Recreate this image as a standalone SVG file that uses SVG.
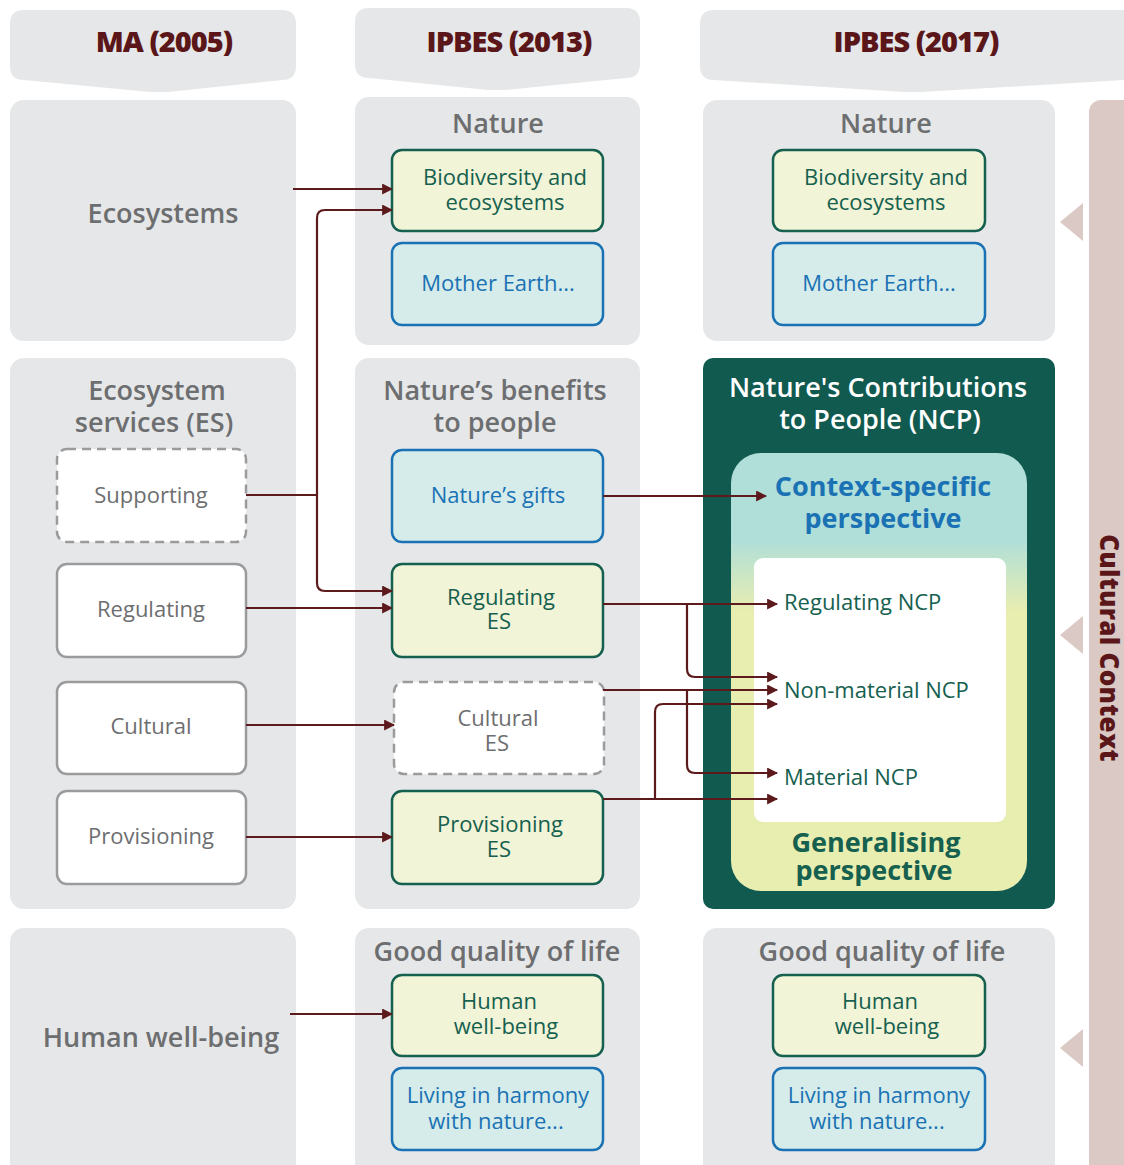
<svg xmlns="http://www.w3.org/2000/svg" width="1124" height="1165" viewBox="0 0 1124 1165">
<defs>
<style>
text{font-family:"Open Sans","Liberation Sans",sans-serif;text-anchor:middle}
.panel{fill:#e6e7e8}
.hdr{font-weight:800;font-size:29px;fill:#5a1618;letter-spacing:-1px}
.ptitle{font-size:27px;fill:#6d6e70;font-weight:600}
.gbox{fill:#f1f4d6;stroke:#15604f;stroke-width:2.5}
.bbox{fill:#d5ecea;stroke:#1a72b4;stroke-width:2.5}
.gray{fill:#ffffff;stroke:#9a9b9d;stroke-width:2.5}
.dash{fill:#ffffff;stroke:#9a9b9d;stroke-width:2.5;stroke-dasharray:9 6}
.gt{font-size:22px;fill:#15604f}
.bt{font-size:22px;fill:#1a72b4}
.yt{font-size:22px;fill:#6d6e70}
.nt{font-size:22px;fill:#15604f;text-anchor:start}
.conn{fill:none;stroke:#5c1a1c;stroke-width:2.2;marker-end:url(#ah)}
.line{fill:none;stroke:#5c1a1c;stroke-width:2.2}
</style>
<marker id="ah" viewBox="0 0 10 10" refX="9" refY="5" markerWidth="5" markerHeight="5" orient="auto" markerUnits="strokeWidth">
<path d="M0,0 L10,5 L0,10 Z" fill="#5c1a1c"/>
</marker>
<linearGradient id="persp" x1="0" y1="0" x2="0" y2="1">
<stop offset="0" stop-color="#b0dfd9"/>
<stop offset="0.2" stop-color="#b0dfd9"/>
<stop offset="0.36" stop-color="#e8edb0"/>
<stop offset="1" stop-color="#e8edb0"/>
</linearGradient>
</defs>
<rect width="1124" height="1165" fill="#ffffff"/>

<!-- headers -->
<g id="hdr-ma">
<path class="panel" d="M24,10 H282 Q296,10 296,24 V66 Q296,80 282,80 L168,92 L150,92 L24,80 Q10,80 10,66 V24 Q10,10 24,10 Z"/>
<text class="hdr" x="164" y="52">MA (2005)</text>
</g>
<g id="hdr-ipbes2013">
<path class="panel" d="M369,8 H626 Q640,8 640,22 V64 Q640,78 626,78 L506,90 L488,90 L369,78 Q355,78 355,64 V22 Q355,8 369,8 Z"/>
<text class="hdr" x="509" y="52">IPBES (2013)</text>
</g>
<g id="hdr-ipbes2017">
<path class="panel" d="M714,10 H1124 V80 L922,92 L904,92 L714,80 Q700,80 700,66 V24 Q700,10 714,10 Z"/>
<text class="hdr" x="916" y="52">IPBES (2017)</text>
</g>

<!-- cultural context bar -->
<g id="cultural-context">
<rect x="1089" y="100" width="50" height="1080" rx="12" fill="#dbc9c5"/>
<polygon points="1060,222 1083,203 1083,241" fill="#dbc9c5"/>
<polygon points="1060,635 1083,616 1083,654" fill="#dbc9c5"/>
<polygon points="1060,1048 1083,1029 1083,1067" fill="#dbc9c5"/>
<text transform="translate(1100,648) rotate(90)" x="0" y="0" style="font-weight:800;font-size:26px;fill:#5a1618;letter-spacing:0.3px">Cultural Context</text>
</g>

<!-- column 1 panels -->
<g id="ma-ecosystems">
<rect class="panel" x="10" y="100" width="286" height="241" rx="14"/>
<text class="ptitle" x="163" y="223">Ecosystems</text>
</g>
<g id="ma-es">
<rect class="panel" x="10" y="358" width="286" height="551" rx="14"/>
<text class="ptitle" x="157" y="400">Ecosystem</text>
<text class="ptitle" x="154" y="432">services (ES)</text>
</g>
<g id="ma-hwb">
<rect class="panel" x="10" y="928" width="286" height="260" rx="14"/>
<text class="ptitle" x="161" y="1047">Human well-being</text>
</g>

<!-- column 2 panels -->
<g id="ip13-nature">
<rect class="panel" x="355" y="97" width="285" height="248" rx="14"/>
<text class="ptitle" x="498" y="133">Nature</text>
</g>
<g id="ip13-benefits">
<rect class="panel" x="355" y="358" width="285" height="551" rx="14"/>
<text class="ptitle" x="495" y="400">Nature’s benefits</text>
<text class="ptitle" x="495" y="432">to people</text>
</g>
<g id="ip13-gql">
<rect class="panel" x="355" y="928" width="285" height="260" rx="14"/>
<text class="ptitle" x="497" y="961">Good quality of life</text>
</g>

<!-- column 3 panels -->
<g id="ip17-nature">
<rect class="panel" x="703" y="100" width="352" height="241" rx="14"/>
<text class="ptitle" x="886" y="133">Nature</text>
</g>
<g id="ip17-gql">
<rect class="panel" x="703" y="928" width="352" height="260" rx="14"/>
<text class="ptitle" x="882" y="961">Good quality of life</text>
</g>

<!-- NCP -->
<g id="ncp">
<rect x="703" y="358" width="352" height="551" rx="10" fill="#115a50"/>
<text x="878" y="397" style="font-size:27px;fill:#ffffff;font-weight:600">Nature's Contributions</text>
<text x="880" y="429" style="font-size:27px;fill:#ffffff;font-weight:600">to People (NCP)</text>
<rect x="731" y="453" width="296" height="438" rx="30" fill="url(#persp)"/>
<text x="883" y="496" style="font-size:27px;fill:#1a72b4;font-weight:bold">Context-specific</text>
<text x="883" y="528" style="font-size:27px;fill:#1a72b4;font-weight:bold">perspective</text>
<rect x="754" y="558" width="252" height="264" rx="9" fill="#ffffff"/>
<text x="876" y="852" style="font-size:27px;fill:#15604f;font-weight:bold">Generalising</text>
<text x="874" y="880" style="font-size:27px;fill:#15604f;font-weight:bold">perspective</text>
</g>
<g id="reg-ncp"><text class="nt" x="784" y="610">Regulating NCP</text></g>
<g id="nonmat-ncp"><text class="nt" x="784" y="698">Non-material NCP</text></g>
<g id="mat-ncp"><text class="nt" x="784" y="785">Material NCP</text></g>

<!-- col1 nodes -->
<g id="supporting"><rect class="dash" x="57" y="449" width="189" height="93" rx="10"/><text class="yt" x="151" y="503">Supporting</text></g>
<g id="regulating"><rect class="gray" x="57" y="564" width="189" height="93" rx="10"/><text class="yt" x="151" y="617">Regulating</text></g>
<g id="cultural"><rect class="gray" x="57" y="682" width="189" height="92" rx="10"/><text class="yt" x="151" y="734">Cultural</text></g>
<g id="provisioning"><rect class="gray" x="57" y="791" width="189" height="93" rx="10"/><text class="yt" x="151" y="844">Provisioning</text></g>

<!-- col2 nodes -->
<g id="ip13-bio"><rect class="gbox" x="392" y="150" width="211" height="81" rx="10"/><text class="gt" x="505" y="185">Biodiversity and</text><text class="gt" x="505" y="210">ecosystems</text></g>
<g id="ip13-mother"><rect class="bbox" x="392" y="243" width="211" height="82" rx="10"/><text class="bt" x="498" y="291">Mother Earth...</text></g>
<g id="gifts"><rect class="bbox" x="392" y="450" width="211" height="92" rx="10"/><text class="bt" x="498" y="503">Nature’s gifts</text></g>
<g id="reg-es"><rect class="gbox" x="392" y="564" width="211" height="93" rx="10"/><text class="gt" x="501" y="605">Regulating</text><text class="gt" x="499" y="629">ES</text></g>
<g id="cult-es"><rect class="dash" x="394" y="682" width="210" height="92" rx="10"/><text class="yt" x="498" y="726">Cultural</text><text class="yt" x="497" y="751">ES</text></g>
<g id="prov-es"><rect class="gbox" x="392" y="791" width="211" height="93" rx="10"/><text class="gt" x="500" y="832">Provisioning</text><text class="gt" x="499" y="857">ES</text></g>
<g id="ip13-hwb"><rect class="gbox" x="392" y="975" width="211" height="81" rx="10"/><text class="gt" x="499" y="1009">Human</text><text class="gt" x="506" y="1034">well-being</text></g>
<g id="ip13-harmony"><rect class="bbox" x="392" y="1068" width="211" height="82" rx="10"/><text class="bt" x="498" y="1103">Living in harmony</text><text class="bt" x="496" y="1129">with nature...</text></g>

<!-- col3 nodes -->
<g id="ip17-bio"><rect class="gbox" x="773" y="150" width="212" height="81" rx="10"/><text class="gt" x="886" y="185">Biodiversity and</text><text class="gt" x="886" y="210">ecosystems</text></g>
<g id="ip17-mother"><rect class="bbox" x="773" y="243" width="212" height="82" rx="10"/><text class="bt" x="879" y="291">Mother Earth...</text></g>
<g id="ip17-hwb"><rect class="gbox" x="773" y="975" width="212" height="81" rx="10"/><text class="gt" x="880" y="1009">Human</text><text class="gt" x="887" y="1034">well-being</text></g>
<g id="ip17-harmony"><rect class="bbox" x="773" y="1068" width="212" height="82" rx="10"/><text class="bt" x="879" y="1103">Living in harmony</text><text class="bt" x="877" y="1129">with nature...</text></g>

<!-- connectors -->
<g id="connectors">
<path class="conn" d="M293,189 H392"/>
<path class="line" d="M246,495 H317"/>
<path class="conn" d="M317,495 V218 Q317,210 325,210 H392"/>
<path class="conn" d="M317,495 V583 Q317,591 325,591 H392"/>
<path class="conn" d="M246,608 H392"/>
<path class="conn" d="M246,725 H394"/>
<path class="conn" d="M246,837 H392"/>
<path class="conn" d="M290,1014 H392"/>
<path class="conn" d="M603,496 H766"/>
<path class="conn" d="M603,604 H777"/>
<path class="conn" d="M687,604 V669 Q687,677 695,677 H777"/>
<path class="conn" d="M603,690 H777"/>
<path class="conn" d="M687,690 V765 Q687,773 695,773 H777"/>
<path class="conn" d="M603,799 H777"/>
<path class="conn" d="M655,799 V712 Q655,704 663,704 H777"/>
</g>
</svg>
